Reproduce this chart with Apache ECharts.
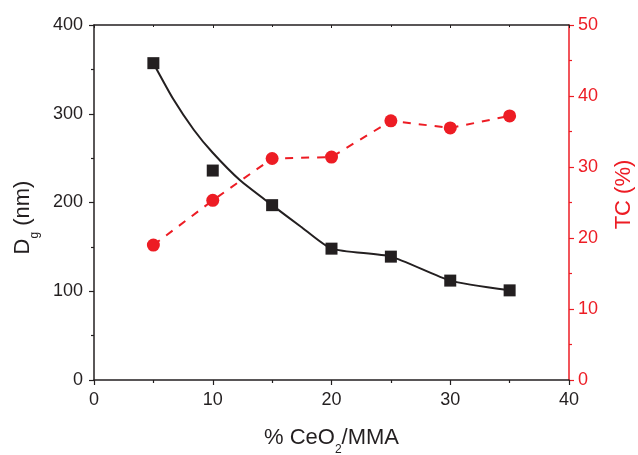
<!DOCTYPE html>
<html>
<head>
<meta charset="utf-8">
<script src="https://cdn.jsdelivr.net/npm/echarts@6/dist/echarts.min.js"></script>
<style>html,body{margin:0;padding:0;background:#fff;}#c{width:638px;height:455px;}</style>
</head>
<body>
<div id="c"></div>
<script>
// Data
const ceo2 = [5, 10, 15, 20, 25, 30, 35];
const dg = [357, 236, 197, 148, 139, 112, 101];
const tc = [19.0, 25.3, 31.2, 31.4, 36.5, 35.5, 37.2];
// Fitted curve
const fitX = [5, 6.7, 8.4, 10, 12.3, 15, 17.4, 20, 25, 30, 35];
const fitY = [357, 316, 282, 256, 225, 197, 173, 148, 139, 112, 101];

const DARK = '#231f20';
const RED = '#ed1c24';
const FONT = 'Liberation Sans';

const chart = echarts.init(document.getElementById('c'));
const subRich = {
  sub: { fontSize: 12, fontFamily: FONT, verticalAlign: 'bottom', lineHeight: 10, padding: [0, 0, -7, 0] }
};
chart.setOption({
  animation: false,
  grid: { left: 94, right: 69, top: 25, bottom: 75, containLabel: false, outerBoundsMode: 'none' },
  xAxis: [{
    type: 'value', min: 0, max: 40, interval: 10,
    name: '% CeO{sub|2}/MMA', nameLocation: 'middle', nameGap: 47,
    nameTextStyle: { fontSize: 22, color: DARK, fontFamily: FONT, rich: subRich },
    axisLine: { show: true, onZero: false, lineStyle: { color: DARK, width: 1.5 } },
    axisTick: { show: true, inside: false, length: 5, lineStyle: { color: DARK, width: 1.2 } },
    minorTick: { show: true, splitNumber: 2, length: 3, lineStyle: { color: DARK, width: 1.2 } },
    axisLabel: { fontSize: 18, color: DARK, fontFamily: FONT, margin: 11 },
    splitLine: { show: false }
  }, {
    type: 'value', min: 0, max: 40, interval: 10, position: 'top',
    axisLine: { show: true, onZero: false, lineStyle: { color: DARK, width: 1.5 } },
    axisTick: { show: true, inside: true, length: 3, lineStyle: { color: DARK } },
    minorTick: { show: true, splitNumber: 2, length: 2, lineStyle: { color: DARK } },
    axisLabel: { show: false },
    splitLine: { show: false }
  }],
  yAxis: [{
    type: 'value', min: 0, max: 400, interval: 100, position: 'left',
    name: 'D{sub|g} (nm)', nameLocation: 'middle', nameGap: 60, nameRotate: 90,
    nameTextStyle: { fontSize: 22, color: DARK, fontFamily: FONT, rich: subRich, padding: [0, 30, 0, 0] },
    axisLine: { show: true, onZero: false, lineStyle: { color: DARK, width: 1.5 } },
    axisTick: { show: true, inside: false, length: 5, lineStyle: { color: DARK, width: 1.2 } },
    minorTick: { show: true, splitNumber: 2, length: 3, lineStyle: { color: DARK, width: 1.2 } },
    axisLabel: { fontSize: 18, color: DARK, fontFamily: FONT, margin: 11 },
    splitLine: { show: false }
  }, {
    type: 'value', min: 0, max: 50, interval: 10, position: 'right',
    name: 'TC (%)', nameLocation: 'middle', nameGap: 44, nameRotate: 90,
    nameTextStyle: { fontSize: 22, color: RED, fontFamily: FONT, padding: [0, 0, 0, 16] },
    axisLine: { show: true, onZero: false, lineStyle: { color: RED, width: 1.5 } },
    axisTick: { show: true, inside: false, length: 5, lineStyle: { color: RED, width: 1.2 } },
    minorTick: { show: true, splitNumber: 2, length: 3, lineStyle: { color: RED, width: 1.2 } },
    axisLabel: { fontSize: 18, color: RED, fontFamily: FONT, margin: 9 },
    splitLine: { show: false }
  }],
  series: [{
    type: 'line', xAxisIndex: 0, yAxisIndex: 0,
    data: fitX.map((x, i) => [x, fitY[i]]),
    smooth: 0.2, showSymbol: false, symbol: 'none',
    lineStyle: { color: DARK, width: 2 }, z: 2
  }, {
    type: 'scatter', xAxisIndex: 0, yAxisIndex: 0,
    data: ceo2.map((x, i) => [x, dg[i]]),
    symbol: 'rect', symbolSize: 12,
    itemStyle: { color: DARK, opacity: 1 }, z: 4
  }, {
    type: 'line', xAxisIndex: 0, yAxisIndex: 1,
    data: ceo2.map((x, i) => [x, tc[i]]),
    symbol: 'circle', symbolSize: 13, showSymbol: true,
    lineStyle: { color: RED, width: 2, type: [8, 8] },
    itemStyle: { color: RED, opacity: 1 }, z: 3
  }]
});
</script>
</body>
</html>
